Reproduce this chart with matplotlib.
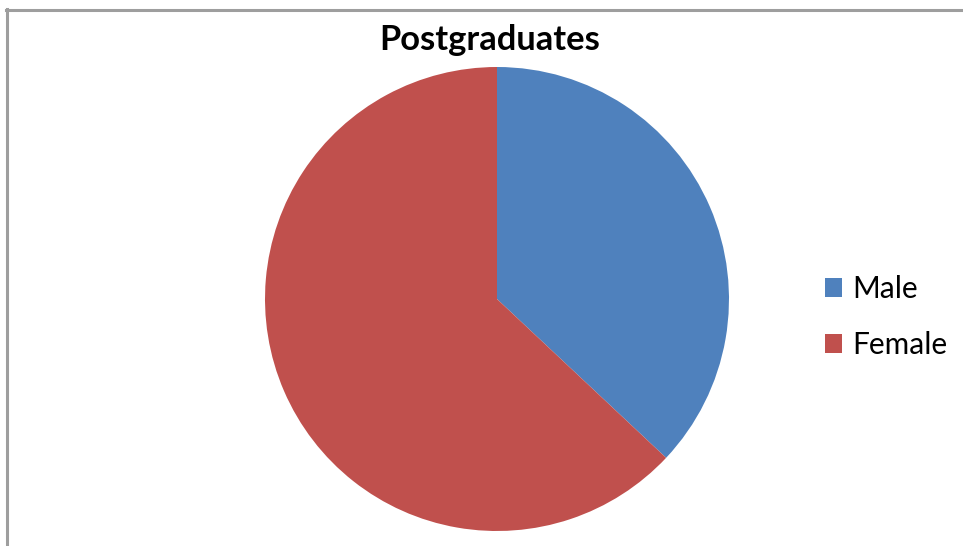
import matplotlib
matplotlib.use("Agg")
import matplotlib.pyplot as plt
from matplotlib.lines import Line2D

categories = ["Male", "Female"]
values = [37, 63]
colors = ["#4F81BD", "#C0504D"]
title = "Postgraduates"

W, H = 963, 546
fig = plt.figure(figsize=(W / 100, H / 100), dpi=100)
fig.patch.set_facecolor("white")

cx, cy, r = 497, 299, 232
ax = fig.add_axes([(cx - r) / W, (H - cy - r) / H, 2 * r / W, 2 * r / H])
wedges, _ = ax.pie(values, colors=colors, startangle=90, counterclock=False,
                   radius=1, wedgeprops=dict(linewidth=0))
ax.set_xlim(-1, 1)
ax.set_ylim(-1, 1)
ax.set_aspect("equal")
ax.axis("off")

fig.text(490 / W, 1 - 40 / H, title, ha="center", va="center",
         fontsize=24.8, fontweight="bold", family=["Lato", "DejaVu Sans"])

fig.legend(wedges, categories, loc="center left",
           bbox_to_anchor=(798 / W, 1 - 317 / H), frameon=False,
           prop=dict(family=["Lato", "DejaVu Sans"], size=21.5),
           handlelength=0.58, handleheight=0.58, handletextpad=0.34,
           labelspacing=0.95)

fig.add_artist(Line2D([6.5 / W, 6.5 / W], [0, 1 - 9 / H], transform=fig.transFigure,
                      color="#9E9E9E", linewidth=2.2))
fig.add_artist(Line2D([5.5 / W, 1], [1 - 10 / H, 1 - 10 / H], transform=fig.transFigure,
                      color="#9E9E9E", linewidth=2.2))

fig.savefig("out.png", dpi=100)
